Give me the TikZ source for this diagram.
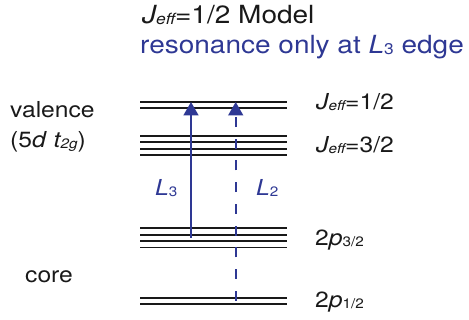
\documentclass[tikz,border=0pt]{standalone}
\usepackage{fontspec}
\setmainfont[FakeStretch=1.12]{TeX Gyre Heros}
\usepackage{xcolor}
\usepackage{tikz}
\usetikzlibrary{arrows.meta}
\definecolor{zw}{RGB}{25,25,25}
\definecolor{bl}{RGB}{46,56,148}
\newcommand{\ZW}[1]{\textcolor{zw}{#1}}
\newcommand{\BL}[1]{\textcolor{bl}{#1}}
\newcommand{\SB}[1]{\raisebox{-0.8pt}{\scalebox{0.62}{#1}}}
\tikzset{
  lvl/.style={line width=1.8pt,draw=zw},
  lbl/.style={anchor=base west,inner sep=0pt,font=\fontsize{22}{26}\selectfont},
  ttl/.style={anchor=base west,inner sep=0pt,font=\fontsize{25}{30}\selectfont},
  trans/.style={draw=bl,line width=1.8pt,-{Triangle[length=13.5pt,width=15pt]}}
}

\begin{document}
\begin{tikzpicture}[x=1pt,y=-1pt]
  \useasboundingbox (0,0) rectangle (469,320);

  % title
  \node[ttl] (title1) at (142,24) {\ZW{\textit{J\SB{eff}}=1/2 Model}};
  \node[ttl] (title2) at (140,54) {\BL{resonance only at \textit{L}\SB{3} edge}};

  % left labels
  \node[lbl] (val) at (10,118) {\ZW{valence}};
  \node[lbl] (valsub) at (10,148) {\ZW{(5\textit{d} \textit{t\SB{2g}})}};
  \node[lbl] (core) at (25,283) {\ZW{core}};

  % levels
  \draw[lvl] (140,102) -- (287,102);
  \draw[lvl] (140,108) -- (287,108);

  \draw[lvl] (140,136) -- (287,136);
  \draw[lvl] (140,142.4) -- (287,142.4);
  \draw[lvl] (140,148.8) -- (287,148.8);
  \draw[lvl] (140,155.2) -- (287,155.2);

  \draw[lvl] (140,228.3) -- (287,228.3);
  \draw[lvl] (140,234.7) -- (287,234.7);
  \draw[lvl] (140,241.1) -- (287,241.1);
  \draw[lvl] (140,247.5) -- (287,247.5);

  \draw[lvl] (140,298.3) -- (287,298.3);
  \draw[lvl] (140,304.3) -- (287,304.3);

  % right labels
  \node[lbl] (j12) at (316,110) {\ZW{\textit{J\SB{eff}}=1/2}};
  \node[lbl] (j32) at (316,153) {\ZW{\textit{J\SB{eff}}=3/2}};
  \node[lbl] (p32) at (315,246) {\ZW{2\textit{p}\SB{3/2}}};
  \node[lbl] (p12) at (315,308) {\ZW{2\textit{p}\SB{1/2}}};

  % transitions
  \coordinate (lthreea) at (191,238);
  \coordinate (lthreeb) at (191,102);
  \coordinate (ltwoa) at (235.7,300.7);
  \coordinate (ltwob) at (235.7,102);
  \draw[trans] (lthreea) -- (lthreeb);
  \draw[trans,dash pattern=on 10pt off 11.7pt] (ltwoa) -- (ltwob);
  \node[lbl] (lthree) at (155,196) {\BL{\textit{L}\SB{3}}};
  \node[lbl] (ltwo) at (256,196) {\BL{\textit{L}\SB{2}}};
\end{tikzpicture}
\end{document}
